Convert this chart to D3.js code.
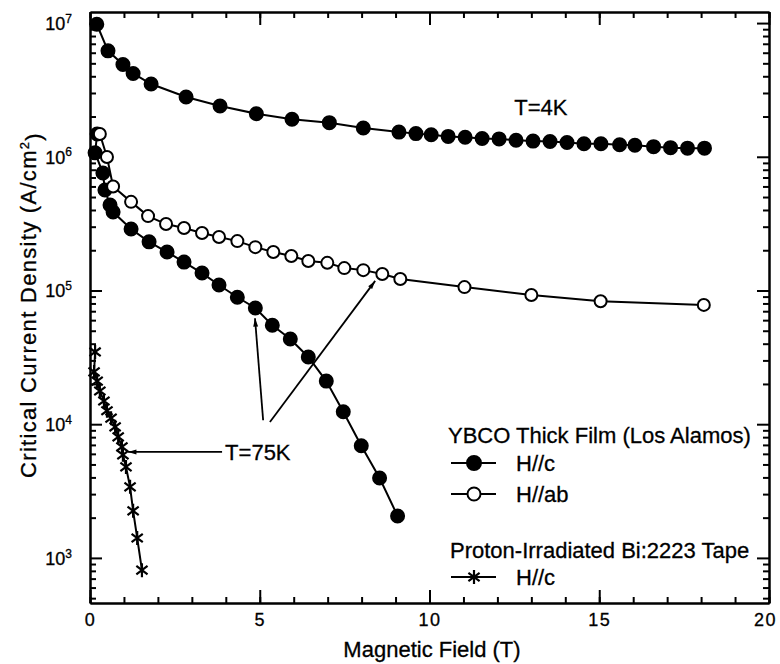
<!DOCTYPE html>
<html>
<head>
<meta charset="utf-8">
<script src="https://cdn.jsdelivr.net/npm/d3@7"></script>
<style>
  body { margin: 0; background: #fff; }
  svg { display: block; font-family: "Liberation Sans", Arial, sans-serif; }
  svg text { stroke: #000; stroke-width: 0.3px; }
  .line { fill: none; stroke: #000; stroke-width: 2px; }
  .axis path, .axis line { stroke: #000; stroke-width: 2px; }
  .axis text { font-family: "Liberation Sans", Arial, sans-serif; }
  .note { stroke: #000; stroke-width: 1.8px; fill: none; }
</style>
</head>
<body>
<div id="main_plot"></div>
<script>

// YBCO thick film, T=4K, H//c (filled)
fieldA = [0.2, 0.53, 0.97, 1.27, 1.8, 2.83, 3.83, 4.9, 5.95, 7.05, 8.05, 9.1, 9.6, 10.05, 10.55, 11.05, 11.55, 12.05, 12.55, 13.05, 13.55, 14.05, 14.55, 15.05, 15.6, 16.05, 16.6, 17.1, 17.6, 18.1];
jcA = [9.8e6, 6.2e6, 4.9e6, 4.2e6, 3.5e6, 2.8e6, 2.4e6, 2.1e6, 1.91e6, 1.8e6, 1.64e6, 1.53e6, 1.49e6, 1.46e6, 1.42e6, 1.4e6, 1.37e6, 1.36e6, 1.33e6, 1.31e6, 1.3e6, 1.28e6, 1.25e6, 1.25e6, 1.23e6, 1.22e6, 1.19e6, 1.17e6, 1.16e6, 1.16e6];

// YBCO thick film, T=75K, H//c (filled)
fieldB = [0.21, 0.15, 0.38, 0.44, 0.59, 0.68, 1.21, 1.74, 2.27, 2.77, 3.3, 3.8, 4.34, 4.87, 5.37, 5.9, 6.43, 6.96, 7.46, 7.99, 8.53, 9.06];
jcB = [1.48e6, 1.07e6, 7.56e5, 5.64e5, 4.36e5, 3.86e5, 2.88e5, 2.31e5, 1.94e5, 1.63e5, 1.35e5, 1.1e5, 8.9e4, 7.4e4, 5.5e4, 4.34e4, 3.18e4, 2.1e4, 1.24e4, 6.9e3, 3.96e3, 2.06e3];

// YBCO thick film, T=75K, H//ab (open)
fieldC = [0.29, 0.5, 0.68, 1.21, 1.71, 2.24, 2.77, 3.3, 3.8, 4.34, 4.87, 5.4, 5.93, 6.43, 6.99, 7.49, 8.05, 8.61, 9.14, 11.03, 13.0, 15.04, 18.08];
jcC = [1.48e6, 9.95e5, 6.0e5, 4.6e5, 3.6e5, 3.14e5, 2.93e5, 2.69e5, 2.51e5, 2.34e5, 2.11e5, 1.94e5, 1.81e5, 1.66e5, 1.61e5, 1.47e5, 1.42e5, 1.33e5, 1.22e5, 1.06e5, 9.25e4, 8.3e4, 7.8e4];

// proton-irradiated Bi:2223 tape, T=75K, H//c (stars)
fieldD = [0.15, 0.12, 0.21, 0.29, 0.41, 0.5, 0.62, 0.74, 0.83, 0.94, 0.97, 1.06, 1.18, 1.27, 1.39, 1.53];
jcD = [3.47e4, 2.46e4, 2.1e4, 1.77e4, 1.49e4, 1.26e4, 1.11e4, 9.55e3, 8.04e3, 6.77e3, 5.9e3, 4.79e3, 3.4e3, 2.25e3, 1.41e3, 8.1e2];

xMajorTicks = [0, 5, 10, 15, 20];
xMinorTicks = [0, 1, 2, 3, 4, 5, 6, 7, 8, 9, 10, 11, 12, 13, 14, 15, 16, 17, 18, 19, 20];
yMajorTicks = [1e3, 1e4, 1e5, 1e6, 1e7];

noteText = ["T=4K", "T=75K"];
noteField = [13.28, 3.98];
noteJc = [2.35e6, 6.2e3];

// annotation arrows: start -> tip, in data units
arrowFrom = [[5.1, 1.07e4], [5.3, 1.04e4], [3.89, 6.2e3]];
arrowTo = [[4.86, 6.2e4], [8.4, 1.18e5], [1.12, 6.2e3]];

legendTitles = ["YBCO Thick Film (Los Alamos)", "Proton-Irradiated Bi:2223 Tape"];
legendKeys = ["filled", "open", "star"];
legendLabels = ["H//c", "H//ab", "H//c"];

margin = {top: 12, right: 11, bottom: 61, left: 90},
  width = 780 - margin.left - margin.right,
  height = 664 - margin.top - margin.bottom;

function zip(xs, ys) {
  return xs.map(function(v, i) { return {field: v, jc: ys[i]}; });
}

// six-armed star like the scanned "ж" marker
let starType = {
  draw: function(context, size) {
    let r = Math.sqrt(size) / 2;
    let dx = r * 0.8, dy = r * 0.6;
    context.moveTo(0, -r); context.lineTo(0, r);
    context.moveTo(-dx, -dy); context.lineTo(dx, dy);
    context.moveTo(-dx, dy); context.lineTo(dx, -dy);
  }
};

function drawMarker(sel, key, r) {
  if (key == "star") {
    sel.append("path")
      .attr("d", d3.symbol().type(starType).size(4 * r * r)())
      .attr("fill", "none")
      .attr("stroke", "#000")
      .attr("stroke-width", 2.2);
  } else {
    sel.append("circle")
      .attr("r", key == "open" ? r - 0.5 : r)
      .attr("fill", key == "open" ? "#fff" : "#000")
      .attr("stroke", "#000")
      .attr("stroke-width", 2);
  }
}

function makePlot() {
  let x = d3.scaleLinear().domain([0, 20]).range([0, width]);
  let y = d3.scaleLog().domain([460, 1.21e7]).range([height, 0]);

  let root = d3.select("#main_plot").append("svg")
    .attr("width", 780)
    .attr("height", 664);

  root.append("defs").append("marker")
    .attr("id", "head")
    .attr("viewBox", "0 -5 12 10")
    .attr("refX", 12)
    .attr("refY", 0)
    .attr("markerUnits", "userSpaceOnUse")
    .attr("markerWidth", 12)
    .attr("markerHeight", 7)
    .attr("orient", "auto")
    .append("path")
    .attr("d", "M0,-3.5L12,0L0,3.5Z")
    .attr("fill", "#000");

  let svg = root.append("g")
    .attr("transform", "translate(" + margin.left + "," + margin.top + ")");

  // minor ticks, all four sides, pointing inward
  let yMinor = y.ticks().filter(function(v) {
    return yMajorTicks.indexOf(v) < 0;
  });

  svg.append("g").attr("class", "axis")
    .attr("transform", "translate(0," + height + ")")
    .call(d3.axisBottom(x).tickValues(xMinorTicks).tickSize(-6).tickSizeOuter(0).tickFormat(""));
  svg.append("g").attr("class", "axis")
    .call(d3.axisTop(x).tickValues(xMinorTicks).tickSize(-6).tickSizeOuter(0).tickFormat(""));
  svg.append("g").attr("class", "axis")
    .call(d3.axisLeft(y).tickValues(yMinor).tickSize(-6).tickSizeOuter(0).tickFormat(""));
  svg.append("g").attr("class", "axis")
    .attr("transform", "translate(" + width + ",0)")
    .call(d3.axisRight(y).tickValues(yMinor).tickSize(-6).tickSizeOuter(0).tickFormat(""));

  // major ticks
  svg.append("g").attr("class", "x axis")
    .attr("transform", "translate(0," + height + ")")
    .call(d3.axisBottom(x).tickValues(xMajorTicks).tickSize(-13).tickSizeOuter(0).tickPadding(10).tickFormat(d3.format("d")))
    .selectAll("text")
    .style("font-size", "18px")
    .style("letter-spacing", "1.5px")
    .attr("dx", function(d) { return d == 20 ? "-4px" : "0"; })
    .attr("fill", "#000");
  svg.append("g").attr("class", "axis")
    .call(d3.axisTop(x).tickValues(xMajorTicks).tickSize(-13).tickSizeOuter(0).tickFormat(""));
  svg.append("g").attr("class", "axis")
    .attr("transform", "translate(" + width + ",0)")
    .call(d3.axisRight(y).tickValues(yMajorTicks).tickSize(-12).tickSizeOuter(0).tickFormat(""));

  let yAxis = svg.append("g").attr("class", "y axis")
    .call(d3.axisLeft(y).tickValues(yMajorTicks).tickSize(-12).tickSizeOuter(0).tickFormat(""));
  yAxis.selectAll(".tick").append("text")
    .attr("x", -18)
    .attr("dy", "0.35em")
    .attr("text-anchor", "end")
    .attr("fill", "#000")
    .style("font-size", "18px")
    .each(function(d) {
      let t = d3.select(this);
      t.append("tspan").text("10");
      t.append("tspan")
        .attr("dy", "-0.6em")
        .style("font-size", "12px")
        .text(Math.round(Math.log10(d)));
    });

  // axis titles
  svg.append("text")
    .attr("x", 342)
    .attr("y", 645)
    .attr("text-anchor", "middle")
    .style("font-size", "22px")
    .text("Magnetic Field (T)");

  let yTitle = svg.append("text")
    .attr("transform", "translate(-54,293) rotate(-90)")
    .attr("text-anchor", "middle")
    .style("font-size", "22px")
    .style("letter-spacing", "1.3px");
  yTitle.append("tspan").text("Critical Current Density (A/cm");
  yTitle.append("tspan").attr("dy", "-0.55em").style("font-size", "13px").text("2");
  yTitle.append("tspan").attr("dy", "0.55em").text(")");

  let line = d3.line()
    .x(function(d) { return x(d.field); })
    .y(function(d) { return y(d.jc); });

  let series = [
    {key: "filled", values: zip(fieldA, jcA)},
    {key: "filled", values: zip(fieldB, jcB)},
    {key: "open", values: zip(fieldC, jcC)},
    {key: "star", values: zip(fieldD, jcD)}
  ];

  // annotations
  svg.selectAll(".arrow")
    .data(arrowFrom)
    .enter().append("line")
    .attr("class", "note")
    .attr("x1", function(d) { return x(d[0]); })
    .attr("y1", function(d) { return y(d[1]); })
    .attr("x2", function(d, i) { return x(arrowTo[i][0]); })
    .attr("y2", function(d, i) { return y(arrowTo[i][1]); })
    .attr("marker-end", "url(#head)");

  svg.selectAll(".label")
    .data(noteText)
    .enter().append("text")
    .attr("x", function(d, i) { return x(noteField[i]); })
    .attr("y", function(d, i) { return y(noteJc[i]); })
    .attr("dy", "0.36em")
    .attr("text-anchor", function(d, i) { return i == 0 ? "middle" : "start"; })
    .style("font-size", "22px")
    .text(function(d) { return d; });

  let metric = svg.selectAll(".metric")
    .data(series)
    .enter().append("g")
    .attr("class", "metric");

  metric.append("path")
    .attr("class", "line")
    .attr("d", function(d) { return line(d.values); });

  metric.each(function(s) {
    d3.select(this).selectAll(".dot")
      .data(s.values)
      .enter().append("g")
      .attr("class", "dot")
      .attr("transform", function(d) { return "translate(" + x(d.field) + "," + y(d.jc) + ")"; })
      .each(function() { drawMarker(d3.select(this), s.key, s.key == "star" ? 7 : 6.5); });
  });

  // legend
  let legend = root.append("g").attr("transform", "translate(448,443)");
  let titleY = [0, 115];
  let rowY = [20, 51, 134];
  legend.selectAll(".ltitle")
    .data(legendTitles)
    .enter().append("text")
    .attr("x", function(d, i) { return i * 2; })
    .attr("y", function(d, i) { return titleY[i]; })
    .style("font-size", "22px")
    .text(function(d) { return d; });

  let rows = legend.selectAll(".legend")
    .data(legendKeys)
    .enter().append("g")
    .attr("class", "legend")
    .attr("transform", function(d, i) { return "translate(0," + rowY[i] + ")"; });
  rows.append("line")
    .attr("x1", 3).attr("x2", 48)
    .attr("stroke", "#000").attr("stroke-width", 2);
  rows.append("g")
    .attr("transform", "translate(26,0)")
    .each(function(d) { drawMarker(d3.select(this), d, 7); });
  rows.append("text")
    .attr("x", 68)
    .attr("dy", "0.36em")
    .style("font-size", "22px")
    .text(function(d, i) { return legendLabels[i]; });
}

makePlot();
</script>
</body>
</html>
